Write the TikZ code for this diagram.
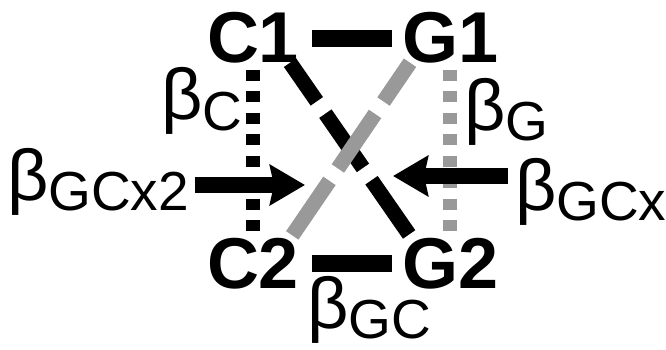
\documentclass[tikz,border=0pt]{standalone}
\usepackage{fontspec}
\setmainfont{Liberation Sans}
\usetikzlibrary{arrows.meta,calc}
\definecolor{lgray}{RGB}{153,153,153}
\newcommand{\bsub}[1]{\fontsize{72}{72}\selectfont β\raisebox{-10pt}{\fontsize{55}{55}\selectfont #1}}
\begin{document}
\begin{tikzpicture}[x=1pt,y=-1pt,
  nd/.style={inner sep=0pt,outer sep=0pt,anchor=base west,font=\fontsize{72}{72}\selectfont\bfseries},
  lb/.style={inner sep=0pt,outer sep=0pt,anchor=base west},
  bar/.style={line width=17pt},
  dotline/.style={line width=14pt,dash pattern=on 11pt off 10.5pt},
  diag/.style={line width=15pt,dash pattern=on 66pt off 15pt,dash phase=19pt},
  bigarrow/.style={line width=16pt,-{Stealth[length=35pt,width=40pt,inset=4pt]}}
]
\useasboundingbox (0,0) rectangle (666,350);
\node[nd] (C1) at (207,63) {C1};
\node[nd] (G1) at (402,63) {G1};
\node[nd] (C2) at (207,288) {C2};
\node[nd] (G2) at (402,288) {G2};
\node[lb] (bC) at (161,120) {\bsub{C}};
\node[lb] (bG) at (464,130) {\bsub{G}};
\node[lb] (bGCx2) at (7,200) {\bsub{GCx2}};
\node[lb] (bGCx) at (515,210) {\bsub{GCx}};
\node[lb] (bGC) at (307,328) {\bsub{GC}};
% horizontal bars
\draw[bar,shorten <=13pt,shorten >=10pt] (C1.east) -- (G1.west);
\draw[bar,shorten <=13pt,shorten >=10pt] (C2.east) -- (G2.west);
% dotted verticals
\draw[dotline,shorten <=6pt,shorten >=4pt] (C1.south) -- (C2.north);
\draw[dotline,lgray,shorten <=6pt,shorten >=4pt] (G1.south) -- (G2.north);
% diagonals
\draw[diag] ($(C1.south east)+(-9,-1)$) -- ($(G2.north west)+(8,-2)$);
\draw[diag,lgray] ($(G1.south west)+(8,-1)$) -- ($(C2.north east)+(-7,-2)$);
% arrows
\coordinate (Lt) at (305,185);
\coordinate (Rt) at (393,176);
\draw[bigarrow,shorten <=6pt] (bGCx2.east |- Lt) -- (Lt);
\draw[bigarrow,shorten <=7pt] (bGCx.west |- Rt) -- (Rt);
\end{tikzpicture}
\end{document}
